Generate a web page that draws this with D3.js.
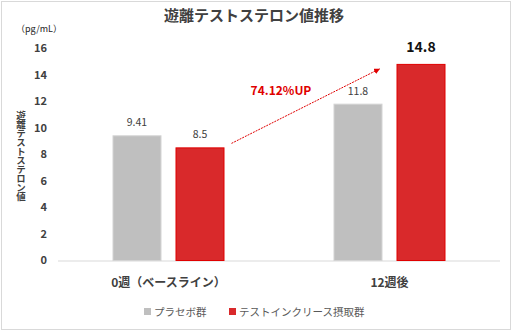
<!DOCTYPE html>
<html><head><meta charset="utf-8">
<script src="https://cdn.jsdelivr.net/npm/d3@7"></script>
<style>body{margin:0;background:#fff;font-family:"Noto Sans CJK JP","Noto Sans",sans-serif;}</style>
</head><body>
<svg id="c" width="512" height="331"></svg>
<script>
const categories = ["0週（ベースライン）", "12週後"];
const seriesNames = ["プラセボ群", "テストインクリース摂取群"];
const placebo = [9.41, 11.8];
const treatment = [8.5, 14.8];
const yTicks = [0, 2, 4, 6, 8, 10, 12, 14, 16];
const annotation = "74.12%UP";

(function () {
const svg = d3.select("#c");
const W = 512, H = 331;
svg.append("rect").attr("x", 1.5).attr("y", 1.5).attr("width", W - 3).attr("height", H - 3)
  .attr("fill", "#fff").attr("stroke", "#d9d9d9");

const mL = 58, mR = 500, mT = 48, mB = 260;
const x = d3.scaleBand().domain(categories).range([mL, mR]);
const y = d3.scaleLinear().domain([0, 16]).range([mB, mT]);
const fills = ["#bfbfbf", "#d9292b"];
const strokes = ["#d4d4d4", "#e00000"];
const barW = 49, gap = 14;

svg.append("text").attr("x", 254).attr("y", 21).attr("text-anchor", "middle")
  .attr("font-size", 15).attr("font-weight", "bold").attr("fill", "#404040")
  .text("遊離テストステロン値推移");

svg.append("text").attr("x", 16).attr("y", 32).attr("font-size", 9).attr("fill", "#222")
  .text("（pg/mL）");

const yAxis = d3.axisLeft(y).tickValues(yTicks).tickSize(0).tickPadding(0);
const ya = svg.append("g").attr("transform", `translate(${47},0)`).call(yAxis);
ya.select(".domain").remove();
ya.selectAll("text").attr("font-size", 11).attr("font-weight", "bold").attr("fill", "#404040")
  .attr("font-family", "'Noto Sans CJK JP',sans-serif");

svg.append("text").attr("x", 21).attr("y", 111).attr("font-size", 9.5)
  .attr("font-weight", "bold").attr("fill", "#404040")
  .attr("style", "writing-mode: vertical-rl; text-orientation: upright")
  .attr("letter-spacing", -0.5)
  .text("遊離テストステロン値");

svg.append("line").attr("x1", mL).attr("x2", mR).attr("y1", mB + 1).attr("y2", mB + 1)
  .attr("stroke", "#d9d9d9").attr("stroke-width", 1);

const data = categories.map((c, i) => ({ c, vals: [placebo[i], treatment[i]] }));
data.forEach((d, i) => {
  const cx = x(d.c) + x.bandwidth() / 2;
  d.vals.forEach((v, j) => {
    const bx = j === 0 ? cx - gap / 2 - barW : cx + gap / 2;
    svg.append("rect").attr("x", bx + 0.5).attr("y", y(v) + 0.5)
      .attr("width", barW - 1).attr("height", y(0) - y(v))
      .attr("fill", fills[j]).attr("stroke", strokes[j]).attr("stroke-width", 1);
    const big = (i === 1 && j === 1);
    svg.append("text").attr("x", bx + barW / 2).attr("y", y(v) - (big ? 12 : 9))
      .attr("text-anchor", "middle")
      .attr("font-size", big ? 14 : 10.5).attr("font-weight", big ? "bold" : "normal")
      .attr("fill", big ? "#111" : "#404040")
      .text(v);
  });
});

svg.append("g").selectAll("text").data(categories).join("text")
  .attr("x", d => x(d) + x.bandwidth() / 2).attr("y", 287).attr("text-anchor", "middle")
  .attr("font-size", 12).attr("font-weight", "bold").attr("fill", "#404040").text(d => d);

const defs = svg.append("defs");
defs.append("marker").attr("id", "ah").attr("viewBox", "0 0 10 10").attr("refX", 9).attr("refY", 5)
  .attr("markerWidth", 6).attr("markerHeight", 6).attr("orient", "auto")
  .append("path").attr("d", "M0,0 L10,5 L0,10 z").attr("fill", "#e00000");
const g1 = x(categories[0]) + x.bandwidth() / 2 + gap / 2 + barW;
const g2 = x(categories[1]) + x.bandwidth() / 2 + gap / 2;
svg.append("line").attr("x1", g1 + 7).attr("y1", y(8.5) - 4).attr("x2", g2 - 17).attr("y2", y(14.8) + 5)
  .attr("stroke", "#e00000").attr("stroke-width", 1).attr("stroke-dasharray", "2,1")
  .attr("marker-end", "url(#ah)");
svg.append("text").attr("x", 281).attr("y", 95).attr("text-anchor", "middle")
  .attr("font-size", 12).attr("font-weight", "bold").attr("fill", "#e00000").text(annotation);

const lg = [{ x: 144, t: seriesNames[0] }, { x: 229, t: seriesNames[1] }];
lg.forEach((l, j) => {
  svg.append("rect").attr("x", l.x).attr("y", 308).attr("width", 7).attr("height", 7).attr("fill", fills[j]);
  svg.append("text").attr("x", l.x + 10).attr("y", 316).attr("font-size", 10.5).attr("fill", "#595959").text(l.t);
});
})();
</script>
</body></html>
